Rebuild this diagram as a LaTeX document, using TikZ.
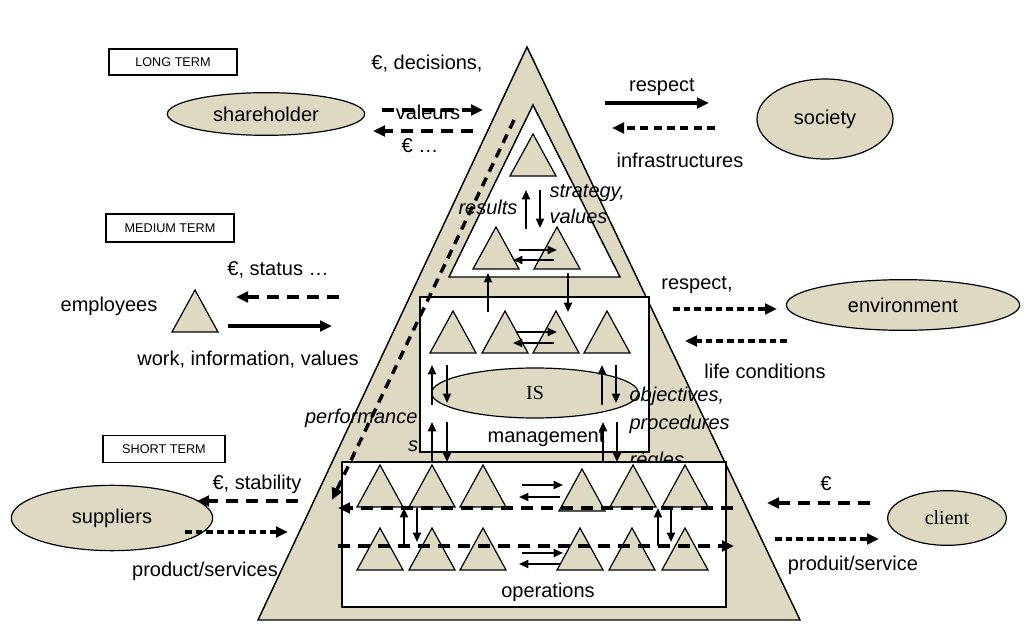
\documentclass[tikz,border=0pt]{standalone}
\usepackage{fontspec}
\setmainfont{Liberation Sans}
\newfontfamily\rmlbl{Liberation Serif}
\usetikzlibrary{shapes.geometric,arrows.meta}
\definecolor{sand}{RGB}{221,217,195}

\tikzset{
  lbl/.style={font=\fontsize{15}{17}\selectfont, inner sep=1pt},
  ilbl/.style={font=\fontsize{15}{17}\selectfont\itshape, inner sep=1pt},
  termbox/.style={draw, line width=0.9pt, inner sep=0pt, font=\fontsize{9.5}{11}\selectfont},
  actor/.style={draw, ellipse, fill=sand, line width=0.9pt, inner sep=0pt, font=\fontsize{15}{17}\selectfont},
  levelbox/.style={draw, fill=white, line width=1.1pt},
  flow/.style={line width=2.6pt, -{Triangle[length=9pt,width=8pt]}},
  dflow/.style={flow, dash pattern=on 9pt off 6pt},
  sflow/.style={flow, dash pattern=on 5pt off 3pt},
  link/.style={line width=1.4pt, -{Triangle[length=7pt,width=6pt]}},
  tri/.pic={\draw[fill=sand, line width=0.9pt] (-23,0) -- (23,0) -- (0,-42) -- cycle;}
}

\begin{document}
\begin{tikzpicture}[x=0.75pt,y=-0.75pt]
\useasboundingbox (0,0) rectangle (1024,630);

% pyramid
\draw[fill=sand, line width=1.1pt] (258,620) -- (527,47) -- (800,620) -- cycle;
\draw[fill=white, line width=1.1pt] (449,277) -- (533,105) -- (620,277) -- cycle;
\pic at (533,176) {tri};
\pic at (496,269) {tri};
\pic at (557,269) {tri};

% management level
\node[levelbox, minimum width=171.75pt, minimum height=116.25pt, inner sep=0pt] (mgmt) at (534.5,374.5) {};
\foreach \x in {453,505,556,607} \pic at (\x,353) {tri};
\node[actor, minimum width=155pt, minimum height=37.5pt, font=\rmlbl\fontsize{15}{17}\selectfont] (is) at (535,393) {IS};

% operations level
\node[ilbl, anchor=west] (regles) at (628,461) {règles};
\node[levelbox, minimum width=288pt, minimum height=108.75pt, inner sep=0pt] (ops) at (534,534.5) {};
\foreach \x in {380,432,483,633,685} \pic at (\x,507) {tri};
\pic at (582,511) {tri};
\foreach \x in {380,432,483,580,632,685} \pic at (\x,570) {tri};

% flows inside the pyramid
\draw[dflow] (733,508) -- (338,508);
\draw[dflow] (338,546) -- (734,546);
\draw[dflow, dash pattern=on 7pt off 5pt] (514,120) -- (332,500);

\draw[link] (526,229) -- (526,190);
\draw[link] (540,190) -- (540,228);
\draw[link] (519,250) -- (557,250);
\draw[link] (554,260) -- (513,260);
\draw[link] (488,312) -- (488,273);
\draw[link] (568,273) -- (568,312);
\draw[link] (517,332) -- (557,332);
\draw[link] (554,343) -- (513,343);
\draw[link] (432,405) -- (432,365);
\draw[link] (447,365) -- (447,403);
\draw[link] (602,405) -- (602,365);
\draw[link] (616,365) -- (616,403);
\draw[link] (432,462) -- (432,422);
\draw[link] (447,422) -- (447,462);
\draw[link] (603,462) -- (603,422);
\draw[link] (617,422) -- (617,462);
\draw[link] (522,485) -- (563,485);
\draw[link] (560,497) -- (519,497);
\draw[link] (522,553) -- (563,553);
\draw[link] (560,564) -- (519,564);
\draw[link] (404,546) -- (404,508);
\draw[link] (417,508) -- (417,542);
\draw[link] (658,546) -- (658,508);
\draw[link] (671,508) -- (671,542);

\node[ilbl, anchor=east] (results) at (519,207) {results};
\node[ilbl, anchor=west] (strategy) at (548,193) {strategy,};
\node[ilbl, anchor=west] (values) at (548,216) {values};
\node[ilbl, anchor=east] (perf) at (419,418) {performance};
\node[ilbl] (sfrag) at (413,446) {s};
\node[ilbl, anchor=west] (objectives) at (628,396) {objectives,};
\node[ilbl, anchor=west] (procedures) at (628,424) {procedures};
\node[lbl] (management) at (546,438) {management};
\node[lbl] (operations) at (548,592) {operations};

% long term
\node[termbox, minimum width=96pt, minimum height=19.5pt] (long) at (173,62) {LONG TERM};
\node[actor, minimum width=148pt, minimum height=32pt] (shareholder) at (266,114) {shareholder};
\node[lbl] (decisions) at (427,64) {€, decisions,};
\draw[dflow] (382,110) -- (483,110);
\node[lbl] (valeurs) at (428,112) {valeurs};
\draw[dflow] (473,131) -- (373,131);
\node[lbl] (euro1) at (420,146) {€ …};

\node[actor, minimum width=102pt, minimum height=60pt] (society) at (825,119) {society};
\node[lbl] (respect1) at (662,87) {respect};
\draw[flow] (605,103) -- (709,103);
\draw[sflow, dash pattern=on 6pt off 4pt] (715,128) -- (612,128);
\node[lbl] (infra) at (680,160) {infrastructures};

% medium term
\node[termbox, minimum width=96pt, minimum height=21pt] (medium) at (170,228) {MEDIUM TERM};
\node[lbl] (status) at (278,270) {€, status …};
\draw[dflow] (339,297) -- (236,297);
\pic at (195,332) {tri};
\node[lbl] (employees) at (109,306) {employees};
\draw[flow] (228,326) -- (332,326);
\node[lbl] (work) at (248,360) {work, information, values};

\node[actor, minimum width=175pt, minimum height=38pt] (environment) at (903,305) {environment};
\node[lbl] (respect2) at (697,285) {respect,};
\draw[sflow] (673,309) -- (777,309);
\draw[sflow] (787,341) -- (685,341);
\node[lbl] (life) at (765,371) {life conditions};

% short term
\node[termbox, minimum width=91.5pt, minimum height=20pt] (short) at (164,449) {SHORT TERM};
\node[actor, minimum width=151pt, minimum height=49pt] (suppliers) at (112,518) {suppliers};
\node[lbl] (stability) at (257,484) {€, stability};
\draw[dflow] (298,501) -- (197,501);
\draw[sflow] (185,532) -- (288,532);
\node[lbl] (prodserv) at (205,571) {product/services};

\node[actor, minimum width=89pt, minimum height=41pt, font=\rmlbl\fontsize{15}{17}\selectfont] (client) at (947,518) {client};
\node[lbl] (euro2) at (826,484) {€};
\draw[dflow] (870,503) -- (767,503);
\draw[sflow] (775,539) -- (879,539);
\node[lbl] (produit) at (853,565) {produit/service};

\end{tikzpicture}
\end{document}
